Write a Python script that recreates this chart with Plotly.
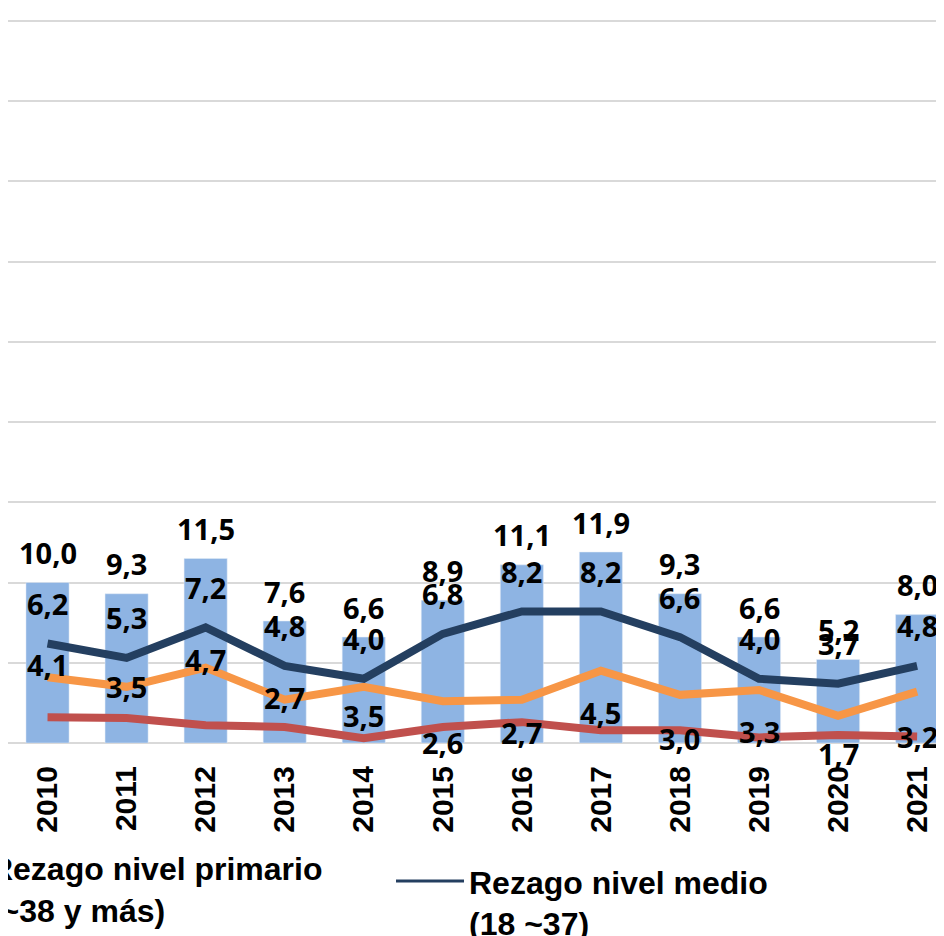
import plotly.graph_objects as go

years = ["2010", "2011", "2012", "2013", "2014", "2015", "2016", "2017", "2018", "2019", "2020", "2021"]
rezago_total = [10.0, 9.3, 11.5, 7.6, 6.6, 8.9, 11.1, 11.9, 9.3, 6.6, 5.2, 8.0]
rezago_medio = [6.2, 5.3, 7.2, 4.8, 4.0, 6.8, 8.2, 8.2, 6.6, 4.0, 3.7, 4.8]
rezago_primario = [4.1, 3.5, 4.7, 2.7, 3.5, 2.6, 2.7, 4.5, 3.0, 3.3, 1.7, 3.2]
rezago_otro = [1.6, 1.55, 1.1, 1.0, 0.3, 1.0, 1.3, 0.8, 0.8, 0.35, 0.5, 0.4]

# label vertical offsets (pixels) - styling only
bar_label_shift = 30
medio_label_shift = 40
primario_label_shift = [13, 0, 8, 2, -29, -41, -33, -42, -44, -41, -38, -45]

def fmt(v):
    return f"{v:.1f}".replace(".", ",")

fig = go.Figure()
fig.add_trace(go.Bar(x=years, y=rezago_total, marker_color="#8EB4E3", width=0.545,
                     showlegend=False, name="Rezago total"))
fig.add_trace(go.Scatter(x=years, y=rezago_otro, mode="lines",
                         line=dict(color="#C0504D", width=8), showlegend=False, name="Rezago otro"))
fig.add_trace(go.Scatter(x=years, y=rezago_primario, mode="lines",
                         line=dict(color="#F79646", width=8), showlegend=False))
fig.add_trace(go.Scatter(x=years, y=rezago_medio, mode="lines",
                         line=dict(color="#243F60", width=8), showlegend=False))
# legend entries
fig.add_trace(go.Scatter(x=[None], y=[None], mode="lines", line=dict(color="#F79646", width=3),
                         name="<b>Rezago nivel primario<br>(~38 y más)</b>", legend="legend"))
fig.add_trace(go.Scatter(x=[None], y=[None], mode="lines", line=dict(color="#243F60", width=3),
                         name="<b>Rezago nivel medio<br>(18 ~37)</b>", legend="legend2"))

# category axis: annotation x uses category index
lab_font = dict(family="Open Sans", size=29, color="black", weight=700)
for i, v in enumerate(rezago_total):
    fig.add_annotation(x=i, y=v, text=fmt(v), showarrow=False, yshift=bar_label_shift, font=lab_font)
for i, v in enumerate(rezago_medio):
    fig.add_annotation(x=i, y=v, text=fmt(v), showarrow=False, yshift=medio_label_shift, font=lab_font)
for i, (v, s) in enumerate(zip(rezago_primario, primario_label_shift)):
    fig.add_annotation(x=i, y=v, text=fmt(v), showarrow=False, yshift=s, font=lab_font)

leg_font = dict(family="Liberation Sans", size=32, color="black")
fig.update_layout(
    width=936, height=928,
    margin=dict(l=0, r=0, t=8, b=193, autoexpand=False),
    plot_bgcolor="white", paper_bgcolor="white",
    legend=dict(x=-0.062, y=-0.134, xanchor="left", yanchor="top", orientation="h",
                font=leg_font, valign="top", bgcolor="rgba(0,0,0,0)"),
    legend2=dict(x=0.4092, y=-0.1524, xanchor="left", yanchor="top", orientation="h",
                 font=leg_font, valign="top", itemwidth=68, bgcolor="rgba(0,0,0,0)"),
    xaxis=dict(type="category", range=[-0.5, 11.34], tickangle=-90,
               tickfont=dict(family="Liberation Sans", size=30, color="black", weight="bold"),
               showgrid=False, showline=False, ticks="", ticklabelstandoff=16),
    yaxis=dict(range=[0, 45.3], dtick=5, showgrid=True, gridcolor="#D9D9D9", gridwidth=2,
               showticklabels=False, zeroline=True, zerolinecolor="#D9D9D9", zerolinewidth=2,
               ticks=""),
)
fig.write_html("out.html")
